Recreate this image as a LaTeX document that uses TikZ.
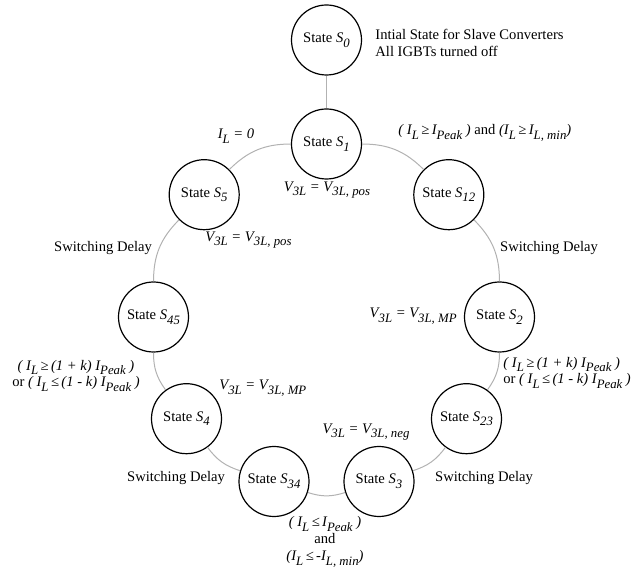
\documentclass[tikz,border=0pt]{standalone}
\usepackage{fontspec}
\setmainfont{Liberation Serif}
\newcommand{\sbs}[1]{\raisebox{-2.4pt}{\fontsize{6.4}{6.6}\selectfont\itshape #1}}

\begin{document}
\begin{tikzpicture}[
  x=0.5pt, y=-0.5pt,
  font=\fontsize{7.3}{7.6}\selectfont,
  state/.style={circle, draw=black, line width=0.6pt, fill=white, minimum size=35pt, inner sep=0pt},
  cond/.style={align=center, inner sep=1pt},
  band/.style={cond, font=\fontsize{7.3}{8.4}\selectfont},
  link/.style={draw=black!30, line width=0.5pt}
]
\useasboundingbox (0,0) rectangle (638,572);

% etats (cercle)
\node[state] (s0)  at (326.5,40)    {State \textit{S}\sbs{0}};
\node[state] (s1)  at (326.5,144)   {State \textit{S}\sbs{1}};
\node[state] (s12) at (448.8,194.7) {State \textit{S}\sbs{12}};
\node[state] (s2)  at (499.5,317)   {State \textit{S}\sbs{2}};
\node[state] (s23) at (466.5,418.7) {State \textit{S}\sbs{23}};
\node[state] (s3)  at (379,481.5)   {State \textit{S}\sbs{3}};
\node[state] (s34) at (274,481.5)   {State \textit{S}\sbs{34}};
\node[state] (s4)  at (186.5,418.7) {State \textit{S}\sbs{4}};
\node[state] (s45) at (153.5,317)   {State \textit{S}\sbs{45}};
\node[state] (s5)  at (204.2,194.7) {State \textit{S}\sbs{5}};

% textes
\node[band, anchor=west, align=left] (info) at (373,43) {Intial State for Slave Converters\\All IGBTs turned off};
\node[cond] (lzero) at (236,136) {\itshape I\sbs{L} = 0};
\node[cond, anchor=west] (lpeak) at (396,133) {\itshape ( I\sbs{L}\,≥\,I\sbs{Peak} ) \upshape and \itshape (I\sbs{L}\,≥\,I\sbs{L, min})};
\node[cond] (vpos1) at (327,190) {\itshape V\sbs{3L} = V\sbs{3L, pos}};
\node[cond, anchor=west] (vpos2) at (203,240) {\itshape V\sbs{3L} = V\sbs{3L, pos}};
\node[cond] (dly1) at (103,248) {Switching Delay};
\node[cond] (dly2) at (549,248) {Switching Delay};
\node[cond, anchor=east] (vmp1) at (459,316) {\itshape V\sbs{3L} = V\sbs{3L, MP}};
\node[band] (band1) at (76,376) {{\itshape ( I\sbs{L}\,≥\,(1 + k) I\sbs{Peak} )}\\or {\itshape ( I\sbs{L}\,≤\,(1 - k) I\sbs{Peak} )}};
\node[band, anchor=west, align=left] (band2) at (501,373) {{\itshape ( I\sbs{L}\,≥\,(1 + k) I\sbs{Peak} )}\\or {\itshape ( I\sbs{L}\,≤\,(1 - k) I\sbs{Peak} )}};
\node[cond, anchor=west] (vmp2) at (217,388) {\itshape V\sbs{3L} = V\sbs{3L, MP}};
\node[cond] (vneg) at (366,432) {\itshape V\sbs{3L} = V\sbs{3L, neg}};
\node[cond] (dly3) at (176,478) {Switching Delay};
\node[cond] (dly4) at (484,478) {Switching Delay};
\node[band] (lneg) at (325,542) {{\itshape ( I\sbs{L}\,≤\,I\sbs{Peak} )}\\and\\{\itshape (I\sbs{L}\,≤\,-I\sbs{L, min})}};

% liaisons
\draw[link] (s0) -- (s1);
\draw[link] (s1) to[bend left=22.5] (s12);
\draw[link] (s12) to[bend left=22.5] (s2);
\draw[link] (s2) to[bend left=18] (s23);
\draw[link] (s23) to[bend left=18] (s3);
\draw[link] (s3) to[bend left=18] (s34);
\draw[link] (s34) to[bend left=18] (s4);
\draw[link] (s4) to[bend left=18] (s45);
\draw[link] (s45) to[bend left=22.5] (s5);
\draw[link] (s5) to[bend left=22.5] (s1);
\end{tikzpicture}
\end{document}
